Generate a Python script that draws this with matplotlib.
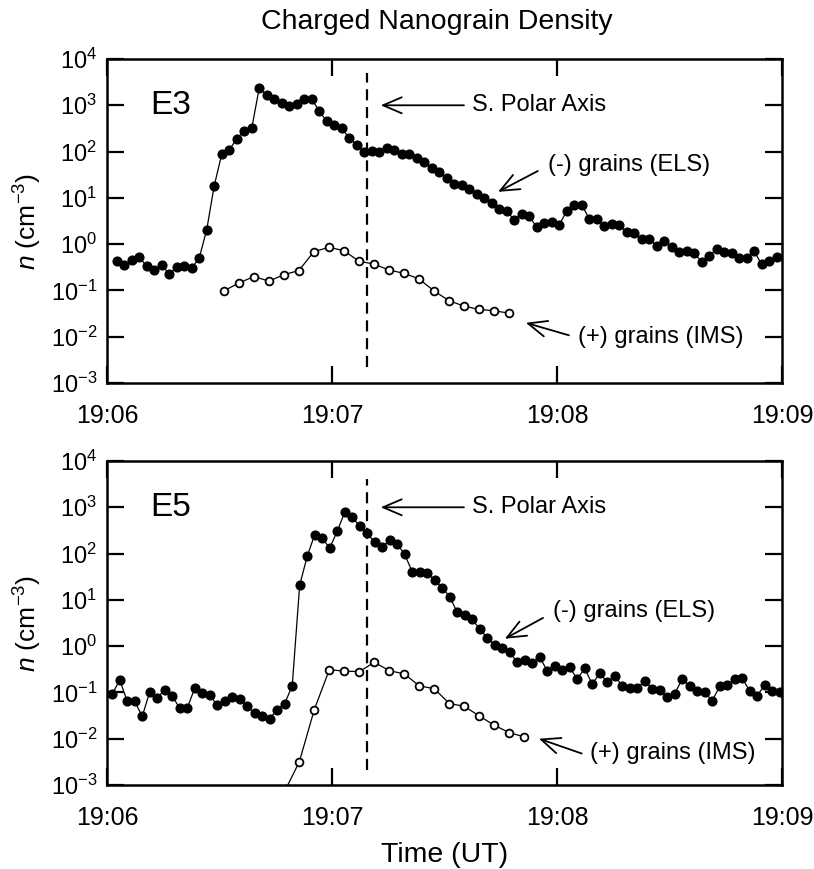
import numpy as np
import matplotlib
matplotlib.use("Agg")
import matplotlib.pyplot as plt

plt.rcParams["font.family"] = ["Liberation Sans", "DejaVu Sans"]
plt.rcParams["mathtext.fontset"] = "custom"
plt.rcParams["mathtext.rm"] = "Liberation Sans"
plt.rcParams["mathtext.it"] = "Liberation Sans:italic"

# time axis: seconds after 19:06:00
tick_secs = [0, 60, 120, 180]
tick_labels = ["19:06", "19:07", "19:08", "19:09"]
polar_axis_t = 69.3

# E3, log10 density (cm^-3)
e3_els_t0, e3_els_dt = 2.6, 2.0
e3_els_log = [
    -0.37, -0.46, -0.34, -0.28, -0.48, -0.56, -0.46, -0.64, -0.50, -0.48,
    -0.52, -0.30, 0.31, 1.26, 1.94, 2.03, 2.28, 2.44, 2.50, 3.37,
    3.22, 3.14, 3.06, 2.98, 3.03, 3.14, 3.14, 2.87, 2.66, 2.57,
    2.50, 2.30, 2.14, 2.00, 2.01, 2.00, 2.08, 2.03, 1.95, 1.94,
    1.87, 1.77, 1.65, 1.56, 1.42, 1.29, 1.28, 1.19, 1.08, 0.99,
    0.89, 0.76, 0.71, 0.53, 0.66, 0.61, 0.36, 0.45, 0.47, 0.42,
    0.71, 0.84, 0.85, 0.55, 0.54, 0.39, 0.44, 0.42, 0.26, 0.23,
    0.10, 0.12, -0.04, 0.06, -0.06, -0.16, -0.15, -0.20, -0.38, -0.25,
    -0.11, -0.16, -0.20, -0.29, -0.29, -0.15, -0.44, -0.36, -0.27,
]
e3_ims_t0, e3_ims_dt = 31.2, 4.0
e3_ims_log = [
    -1.01, -0.84, -0.70, -0.80, -0.66, -0.57, -0.16, -0.07, -0.14, -0.37,
    -0.43, -0.56, -0.63, -0.75, -1.01, -1.22, -1.34, -1.41, -1.44, -1.49,
]

# E5, log10 density (cm^-3)
e5_els_t0, e5_els_dt = 1.4, 2.0
e5_els_log = [
    -1.04, -0.73, -1.19, -1.19, -1.52, -0.99, -1.12, -0.94, -1.08, -1.34,
    -1.34, -0.91, -1.01, -1.05, -1.28, -1.19, -1.10, -1.14, -1.30, -1.45,
    -1.52, -1.57, -1.37, -1.24, -0.86, 1.32, 1.94, 2.41, 2.33, 2.12,
    2.48, 2.89, 2.78, 2.60, 2.44, 2.24, 2.14, 2.29, 2.21, 1.98,
    1.61, 1.61, 1.58, 1.42, 1.26, 1.07, 0.73, 0.68, 0.58, 0.37,
    0.18, 0.03, -0.04, -0.13, -0.35, -0.29, -0.36, -0.24, -0.53, -0.42,
    -0.52, -0.46, -0.71, -0.48, -0.82, -0.59, -0.77, -0.64, -0.86, -0.91,
    -0.91, -0.75, -0.92, -0.95, -1.10, -1.03, -0.71, -0.86, -0.98, -1.00,
    -1.18, -0.87, -0.84, -0.71, -0.69, -0.97, -1.07, -0.84, -0.98, -1.00,
]
e5_ims_t0, e5_ims_dt = 47.3, 4.0
e5_ims_log = [
    -3.15, -2.50, -1.37, -0.51, -0.54, -0.55, -0.35, -0.53, -0.60, -0.86,
    -0.92, -1.24, -1.30, -1.51, -1.71, -1.87, -1.96,
]

panels = [
    dict(name="E3", els=(e3_els_t0, e3_els_dt, e3_els_log),
         ims=(e3_ims_t0, e3_ims_dt, e3_ims_log),
         dash=(10**-2.65, 10**3.7),
         els_txt=(117.6, 10**1.72), els_arr=((114.9, 10**1.58), (104.3, 10**1.13)),
         ims_txt=(125.6, 10**-2.0), ims_arr=((123.2, 10**-1.97), (111.7, 10**-1.70))),
    dict(name="E5", els=(e5_els_t0, e5_els_dt, e5_els_log),
         ims=(e5_ims_t0, e5_ims_dt, e5_ims_log),
         dash=(10**-2.67, 10**3.61),
         els_txt=(118.9, 10**0.75), els_arr=((116.3, 10**0.61), (106.1, 10**0.16)),
         ims_txt=(128.8, 10**-2.3), ims_arr=((126.6, 10**-2.32), (115.2, 10**-2.0))),
]

fig = plt.figure(figsize=(8.14, 8.69), dpi=100)
boxes = [[0.1314, 0.5593, 0.8292, 0.3728], [0.1314, 0.0967, 0.8292, 0.3728]]

arrow_kw = dict(arrowstyle="->,head_length=0.75,head_width=0.32", lw=1.3,
                color="black", mutation_scale=18, shrinkA=0, shrinkB=0)

for box, p in zip(boxes, panels):
    ax = fig.add_axes(box)
    t0, dt, vals = p["els"]
    t = t0 + dt * np.arange(len(vals))
    ax.plot(t, 10.0 ** np.array(vals), "-o", color="black", lw=0.9,
            ms=6.3, mfc="black", mec="black", zorder=3)
    t0, dt, vals = p["ims"]
    t = t0 + dt * np.arange(len(vals))
    ax.plot(t, 10.0 ** np.array(vals), "-o", color="black", lw=0.9,
            ms=5.6, mfc="white", mec="black", mew=1.3, zorder=3)

    ax.set_yscale("log")
    ax.set_ylim(1e-3, 1e4)
    ax.set_xlim(0, 180)
    ax.set_xticks(tick_secs)
    ax.set_xticklabels(tick_labels)
    ax.set_yticks([10.0 ** k for k in range(-3, 5)])
    ax.set_yticklabels([r"$10^{%d}$" % k for k in range(-3, 5)])
    ax.yaxis.set_minor_locator(matplotlib.ticker.NullLocator())
    ax.tick_params(direction="in", length=12, width=1.6, top=True, right=True,
                   labelsize=17)
    ax.tick_params(axis="x", labelsize=18, pad=15)
    ax.tick_params(axis="y", pad=7)
    for s in ax.spines.values():
        s.set_linewidth(1.8)
    ax.set_ylabel(r"$n$ (cm$^{-3}$)", fontsize=19, labelpad=5)

    ax.vlines(polar_axis_t, p["dash"][0], p["dash"][1], colors="black",
              lw=1.6, linestyles=(0, (5, 3)))

    ax.text(11.5, 1e3, p["name"], fontsize=24, va="center", ha="left")
    ax.text(97.3, 10**3.0, "S. Polar Axis", fontsize=17, va="center", ha="left")
    ax.annotate("", xy=(73.0, 10**3.0), xytext=(95.2, 10**3.0), arrowprops=arrow_kw)
    ax.text(p["els_txt"][0], p["els_txt"][1], "(-) grains (ELS)", fontsize=17,
            va="center", ha="left")
    ax.annotate("", xy=p["els_arr"][1], xytext=p["els_arr"][0], arrowprops=arrow_kw)
    ax.text(p["ims_txt"][0], p["ims_txt"][1], "(+) grains (IMS)", fontsize=17,
            va="center", ha="left")
    ax.annotate("", xy=p["ims_arr"][1], xytext=p["ims_arr"][0], arrowprops=arrow_kw)

ax.set_xlabel("Time (UT)", fontsize=20.5, labelpad=9)
fig.text(0.537, 0.975, "Charged Nanograin Density", fontsize=20.5,
         ha="center", va="center")

fig.savefig("out.png", dpi=100)
